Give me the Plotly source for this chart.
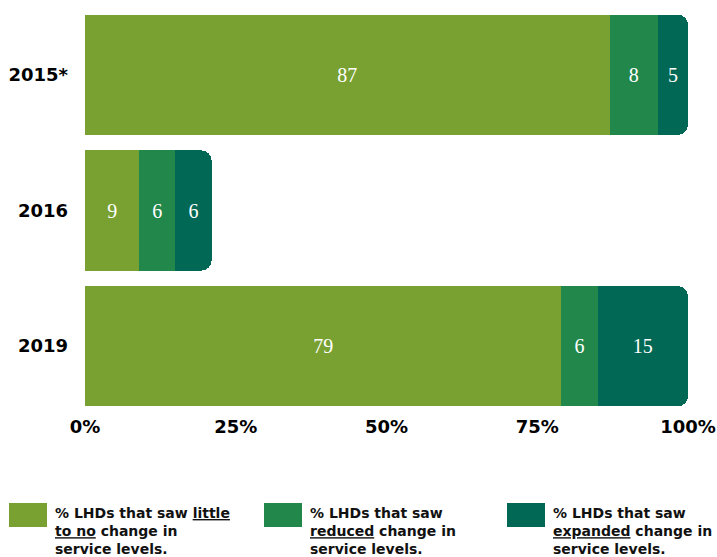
import plotly.graph_objects as go

categories = ["2015*", "2016", "2019"]
little_to_no = [87, 9, 79]
reduced = [8, 6, 6]
expanded = [5, 6, 15]
x_tickvals = [0, 25, 50, 75, 100]
x_ticktext = ["0%", "25%", "50%", "75%", "100%"]
legend_texts = [
    "% LHDs that saw <u>little</u><br><u>to no</u> change in<br>service levels.",
    "% LHDs that saw<br><u>reduced</u> change in<br>service levels.",
    "% LHDs that saw<br><u>expanded</u> change in<br>service levels.",
]
colors = ["#78A131", "#21874A", "#006854"]

W, H = 717, 557
L, R, T, B = 85, 29, 7, 143
pw, ph = W - L - R, H - T - B
SANS = "DejaVu Sans, Liberation Sans, Arial, sans-serif"

def px2paper(x, y):
    return (x - L) / pw, (H - B - y) / ph

fig = go.Figure()
for vals, col in zip([little_to_no, reduced, expanded], colors):
    fig.add_trace(go.Bar(
        y=categories, x=vals, orientation="h",
        marker=dict(color=col, line=dict(width=0)),
        text=vals, texttemplate="%{text}", textposition="inside",
        insidetextanchor="middle", textangle=0,
        textfont=dict(family="Liberation Serif, DejaVu Serif, serif", size=20, color="white"),
        hoverinfo="skip",
    ))

legend_x = [9, 264, 507]
for lx, txt, col in zip(legend_x, legend_texts, colors):
    x0, y0 = px2paper(lx, 503)
    x1, y1 = px2paper(lx + 38, 527)
    fig.add_shape(type="rect", xref="paper", yref="paper", x0=x0, x1=x1, y0=y1, y1=y0,
                  fillcolor=col, line=dict(width=0))
    tx, ty = px2paper(lx + 44, 503)
    fig.add_annotation(xref="paper", yref="paper", x=tx, y=ty, xanchor="left", yanchor="top",
                       text="<b>" + txt + "</b>", showarrow=False, align="left",
                       font=dict(family=SANS, size=14, color="#111"))

fig.update_layout(
    width=W, height=H,
    margin=dict(l=L, r=R, t=T, b=B, autoexpand=False),
    barmode="stack", bargap=0.115, barcornerradius=10,
    plot_bgcolor="white", paper_bgcolor="white",
    showlegend=False,
    xaxis=dict(range=[0, 100], tickvals=x_tickvals, ticktext=x_ticktext,
               automargin=False,
               showgrid=False, zeroline=False, showline=False, ticks="",
               tickfont=dict(family=SANS, size=18, color="black", weight="bold")),
    yaxis=dict(categoryorder="array", categoryarray=categories[::-1],
               automargin=False,
               showgrid=False, zeroline=False, showline=False, ticks="",
               ticklabelstandoff=16,
               tickfont=dict(family=SANS, size=18, color="black", weight="bold")),
)

fig.write_html("out.html")
